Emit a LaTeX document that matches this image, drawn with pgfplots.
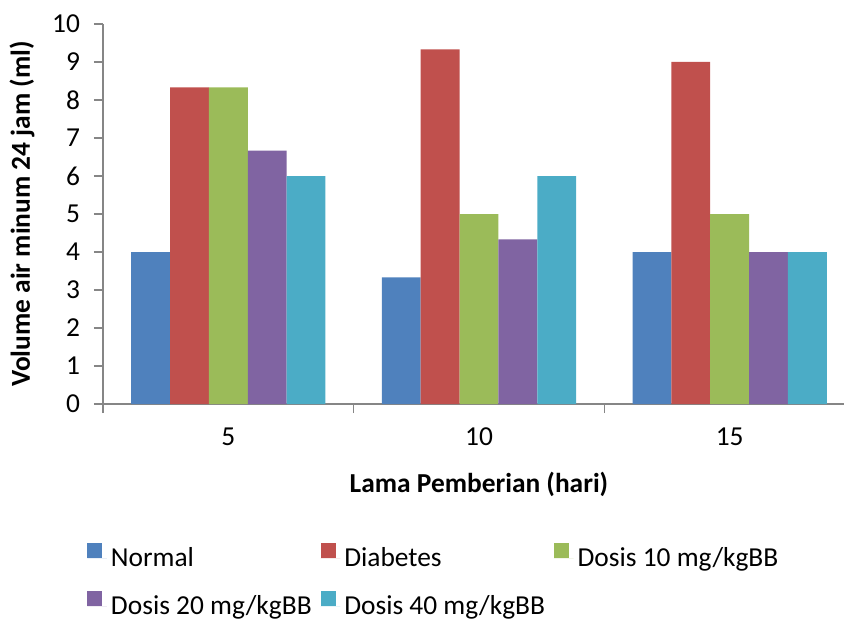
\documentclass[border=0pt]{standalone}
\usepackage{pgfplots}
\pgfplotsset{compat=1.18}
\usepackage{fontspec}
\setmainfont{Carlito}
\definecolor{cA}{HTML}{4F81BD}
\definecolor{cB}{HTML}{C0504D}
\definecolor{cC}{HTML}{9BBB59}
\definecolor{cD}{HTML}{8064A2}
\definecolor{cE}{HTML}{4BACC6}
\definecolor{axgray}{HTML}{868686}
\begin{document}
\begin{tikzpicture}[font=\fontsize{13.7}{16}\selectfont]
\path[use as bounding box] (0,0) rectangle (422pt,310.5pt);
\begin{axis}[
  at={(51.5pt,108.5pt)}, anchor=south west,
  scale only axis, width=376pt, height=190pt,
  xmin=-0.5, xmax=2.5, ymin=0, ymax=10,
  axis x line*=bottom, axis y line*=left,
  axis line style={axgray, line width=0.6pt},
  xtick={0,1,2}, xticklabels={5,10,15},
  major x tick style={draw=none},
  minor xtick={-0.5,0.5,1.5,2.5},
  minor x tick style={axgray, line width=0.6pt},
  minor tick length=4.5pt,
  ytick={0,1,...,10},
  y tick style={axgray, line width=0.6pt},
  major tick length=4.5pt,
  tick align=outside,
  /pgf/number format/assume math mode=true,
  yticklabel style={xshift=-3.5pt},
  xticklabel style={yshift=-4pt},
  xlabel={\textbf{Lama Pemberian (hari)}},
  ylabel={\textbf{Volume air minum 24 jam (ml)}},
  xlabel style={at={(axis description cs:0.5,0)}, anchor=center, yshift=-40pt},
  ylabel style={at={(axis description cs:0,0.5)}, anchor=center, yshift=40.5pt},
  ybar=0pt, bar width=0.155,
  legend columns=3,
  legend cell align=left,
  legend image code/.code={\fill[#1] (0pt,0pt) rectangle (7.5pt,7.5pt); \path (0pt,0pt) -- (9.8pt,0pt);},
  legend style={draw=none, fill=none, inner sep=0pt,
    at={(axis description cs:0,0)}, anchor=north west,
    xshift=-8pt, yshift=-69.5pt,
    row sep=9pt,
    /tikz/every even column/.append style={column sep=2.5pt}},
]
\addplot[fill=cA, draw=none] coordinates {(0,4) (1,3.33) (2,4)};
\addplot[fill=cB, draw=none] coordinates {(0,8.33) (1,9.33) (2,9)};
\addplot[fill=cC, draw=none] coordinates {(0,8.33) (1,5) (2,5)};
\addplot[fill=cD, draw=none] coordinates {(0,6.67) (1,4.33) (2,4)};
\addplot[fill=cE, draw=none] coordinates {(0,6) (1,6) (2,4)};
\legend{Normal, Diabetes, Dosis 10 mg/kgBB, Dosis 20 mg/kgBB, Dosis 40 mg/kgBB}
\end{axis}
\end{tikzpicture}
\end{document}
